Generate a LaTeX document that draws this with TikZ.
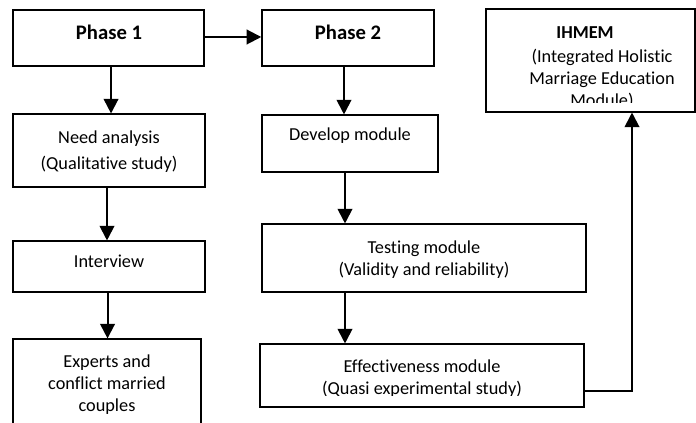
\documentclass[tikz,border=0pt]{standalone}
\usepackage{fontspec}
\setmainfont{Carlito}[Ligatures=NoCommon]
\usetikzlibrary{arrows.meta,fit}

\begin{document}
\begin{tikzpicture}[
            x=0.75pt, y=-0.75pt,
            box/.style={draw, line width=0.8pt, inner sep=0pt},
            phase/.style={box, line width=1.1pt},
            txt/.style={align=center, inner sep=0pt, anchor=base, font=\fontsize{13.7}{16.7}\selectfont},
            head/.style={txt, font=\fontsize{15.5}{18}\selectfont\bfseries},
            arr/.style={line width=1.5pt, -{Triangle[width=11pt,length=11pt]}}
            ]
            \useasboundingbox (0,0) rectangle (696,423);
            % boxes
            \node[phase, fit={(13,10) (204,66)}] (phase1) {};
            \node[phase, fit={(262,10) (434,66)}] (phase2) {};
            \node[box, fit={(13,114) (205,187)}] (need) {};
            \node[box, fit={(13,241) (205,292)}] (interview) {};
            \node[box, fit={(13,339) (201,440)}] (experts) {};
            \node[box, fit={(262,115) (438,172)}] (dev) {};
            \node[box, fit={(262,224) (586,292)}] (test) {};
            \node[box, fit={(260,344) (584,407)}] (eff) {};
            \node[box, fit={(486,9) (695,112)}] (ihmem) {};
            % texts (base = last line)
            \node[head] (phase1-t) at (109,40) {Phase 1};
            \node[head] (phase2-t) at (348,40) {Phase 2};
            \node[txt, font=\fontsize{13.7}{19.5}\selectfont] (need-t) at (109,170) {Need analysis\\(Qualitative study)};
            \node[txt] (interview-t) at (109,268) {Interview};
            \node[txt] (experts-t) at (107,412) {Experts and\\conflict married\\couples};
            \node[txt] (dev-t) at (350,141) {Develop module};
            \node[txt] (test-t) at (424,276) {Testing module\\(Validity and reliability)};
            \begin{scope}
                \clip (260,344) rectangle (584,396);
                \node[txt] (eff-t) at (422,395) {Effectiveness module\\(Quasi experimental study)};
            \end{scope}
            \begin{scope}
                \clip (486,9) rectangle (695,103);
                \node[txt, font=\fontsize{13.7}{16.7}\selectfont\bfseries] (ihmem-t) at (585,39) {IHMEM};
                \node[txt] (ihmem-d) at (602,107) {(Integrated Holistic\\Marriage Education\\Module)};
            \end{scope}
            % arrows
            \coordinate (bend) at (632,391);
            \draw[arr] (phase1.east |- 0,37) -- (phase2.west |- 0,37);
            \draw[arr] ([xshift=1.9pt]phase1.south) -- ([xshift=1.9pt]phase1.south |- need.north);
            \draw[arr] ([xshift=-1.5pt]need.south) -- ([xshift=-1.5pt]need.south |- interview.north);
            \draw[arr] ([xshift=-1.1pt]interview.south) -- ([xshift=-1.1pt]interview.south |- experts.north);
            \draw[arr] ([xshift=-3pt]phase2.south) -- ([xshift=-3pt]phase2.south |- dev.north);
            \draw[arr] ([xshift=-3.75pt]dev.south) -- ([xshift=-3.75pt]dev.south |- test.north);
            \draw[arr] ([xshift=-59.25pt]test.south) -- ([xshift=-59.25pt]test.south |- eff.north);
            \draw[arr] (eff.east |- bend) -- (bend) -- (bend |- ihmem.south);
\end{tikzpicture}
\end{document}
